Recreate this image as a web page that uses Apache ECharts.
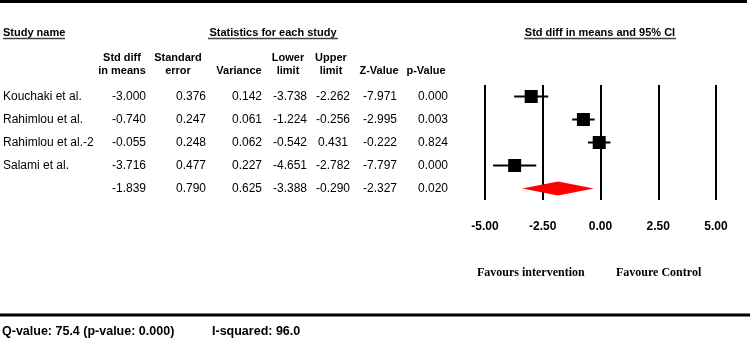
<!DOCTYPE html>
<html><head><meta charset="utf-8">
<script src="https://cdn.jsdelivr.net/npm/echarts@6/dist/echarts.min.js"></script>
<style>html,body{margin:0;padding:0;background:#fff}#c{width:750px;height:340px}</style>
</head><body><div id="c"></div>
<script>
var studies = ['Kouchaki et al.', 'Rahimlou et al.', 'Rahimlou et al.-2', 'Salami et al.', ''];
var stdDiff = [-3.000, -0.740, -0.055, -3.716, -1.839];
var stdErr = [0.376, 0.247, 0.248, 0.477, 0.790];
var variance = [0.142, 0.061, 0.062, 0.227, 0.625];
var lowerLimit = [-3.738, -1.224, -0.542, -4.651, -3.388];
var upperLimit = [-2.262, -0.256, 0.431, -2.782, -0.290];
var zValue = [-7.971, -2.995, -0.222, -7.797, -2.327];
var pValue = [0.000, 0.003, 0.824, 0.000, 0.020];
var xMin = -5, xMax = 5, xStep = 2.5;
var colHeaders = [['Std diff', 'in means'], ['Standard', 'error'], ['', 'Variance'], ['Lower', 'limit'], ['Upper', 'limit'], ['', 'Z-Value'], ['', 'p-Value']];
var heterogeneity = 'Q-value: 75.4 (p-value: 0.000)';
var iSquared = 'I-squared: 96.0';

var SANS = '"Liberation Sans", Arial, sans-serif';
var SERIF = '"Liberation Serif", "Times New Roman", serif';
var chart = echarts.init(document.getElementById('c'), null, {renderer: 'canvas'});

var studyIdx = [0, 1, 2, 3];
var studyData = studyIdx.map(function (i) { return [lowerLimit[i], stdDiff[i], upperLimit[i], i]; });
var summaryData = [[lowerLimit[4], stdDiff[4], upperLimit[4], 4]];

chart.setOption({
  animation: false,
  grid: {left: 485, right: 34, top: 85, bottom: 140},
  xAxis: {
    type: 'value', min: xMin, max: xMax, interval: xStep,
    axisLine: {show: false}, axisTick: {show: false},
    splitLine: {show: true, lineStyle: {color: '#000', width: 2}},
    axisLabel: {margin: 21, color: '#000', fontFamily: SANS, fontWeight: 'bold', fontSize: 12,
      formatter: function (v) { return v.toFixed(2); }}
  },
  yAxis: {
    type: 'category', inverse: true, data: studies.map(function (s, i) { return 'r' + i; }),
    axisLine: {show: false}, axisTick: {show: false}, axisLabel: {show: false}, splitLine: {show: false}
  },
  series: [{
    type: 'custom', data: studyData, encode: {x: [0, 1, 2], y: 3},
    renderItem: function (params, api) {
      var lo = api.coord([api.value(0), api.value(3)]);
      var est = api.coord([api.value(1), api.value(3)]);
      var hi = api.coord([api.value(2), api.value(3)]);
      var s = 13;
      return {type: 'group', children: [
        {type: 'line', shape: {x1: lo[0], y1: lo[1], x2: hi[0], y2: hi[1]}, style: {stroke: '#000', lineWidth: 2}},
        {type: 'rect', shape: {x: est[0] - s / 2, y: est[1] - s / 2, width: s, height: s}, style: {fill: '#000'}}
      ]};
    }
  }, {
    type: 'custom', data: summaryData, encode: {x: [0, 1, 2], y: 3},
    renderItem: function (params, api) {
      var lo = api.coord([api.value(0), api.value(3)]);
      var est = api.coord([api.value(1), api.value(3)]);
      var hi = api.coord([api.value(2), api.value(3)]);
      var h = 7;
      return {type: 'polygon', shape: {points: [[lo[0], lo[1]], [est[0], est[1] - h], [hi[0], hi[1]], [est[0], est[1] + h]]},
        style: {fill: '#ff0000'}};
    }
  }]
});

function txt(t, x, y, font, align) {
  return {type: 'text', silent: true, style: {text: t, x: x, y: y, font: font, fill: '#000', textAlign: align || 'left', textVerticalAlign: 'middle'}};
}
function ln(x1, y1, x2, y2, w, c) {
  return {type: 'line', silent: true, shape: {x1: x1, y1: y1, x2: x2, y2: y2}, style: {stroke: c || '#000', lineWidth: w}};
}
var els = [];
els.push(ln(0, 1.5, 747, 1.5, 3));
els.push(ln(0, 315, 750, 315, 3));
var HB = 'bold 11px ' + SANS;
els.push(txt('Study name', 3, 33, HB));
els.push(ln(3, 38.5, 65, 38.5, 1.5, '#444'));
els.push(txt('Statistics for each study', 273, 33, HB, 'center'));
els.push(ln(208, 38.5, 338, 38.5, 1.5, '#444'));
els.push(txt('Std diff in means and 95% CI', 600, 33, HB, 'center'));
els.push(ln(524, 38.5, 676, 38.5, 1.5, '#444'));
var headX = [122, 178, 239, 288, 331, 379, 426];
colHeaders.forEach(function (h, j) {
  if (h[0]) els.push(txt(h[0], headX[j], 58, HB, 'center'));
  els.push(txt(h[1], headX[j], 71, HB, 'center'));
});
var valX = [129, 191, 247, 290, 333, 380, 433];
var cols = [stdDiff, stdErr, variance, lowerLimit, upperLimit, zValue, pValue];
var R = '12px ' + SANS;
studies.forEach(function (name, i) {
  var y = chart.convertToPixel({yAxisIndex: 0}, 'r' + i);
  if (name) els.push(txt(name, 3, y, R));
  cols.forEach(function (arr, j) { els.push(txt(arr[i].toFixed(3), valX[j], y, R, 'center')); });
});
els.push(txt('Favours intervention', 477, 273, 'bold 12px ' + SERIF));
els.push(txt('Favoure Control', 616, 273, 'bold 12px ' + SERIF));
els.push(txt(heterogeneity, 2, 332, 'bold 12.5px ' + SANS));
els.push(txt(iSquared, 212, 332, 'bold 12.5px ' + SANS));
chart.setOption({graphic: {elements: els}});
</script></body></html>
